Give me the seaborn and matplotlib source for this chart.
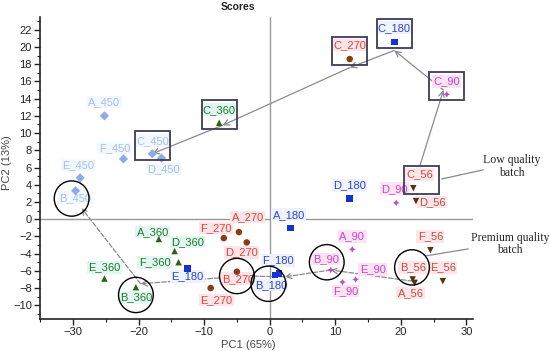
import numpy as np
import pandas as pd
import matplotlib
matplotlib.use("Agg")
import matplotlib.pyplot as plt
import seaborn as sns
from matplotlib.patches import Ellipse, Rectangle

# ==========================================
# DATA
# ==========================================

samples = ["A", "B", "C", "D", "E", "F"]
groups = ["450", "360", "270", "180", "90", "56"]

pc1_450 = [-25.2, -29.6, -17.9, -16.5, -28.9, -22.3]
pc2_450 = [12.0, 3.3, 7.6, 7.1, 4.8, 7.0]

pc1_360 = [-16.9, -20.4, -7.7, -14.5, -25.2, -13.9]
pc2_360 = [-2.3, -7.9, 11.2, -3.7, -6.9, -5.0]

pc1_270 = [-4.7, -5.0, 12.2, -3.5, -9.0, -7.0]
pc2_270 = [-1.5, -6.1, 18.6, -2.7, -8.0, -2.2]

pc1_180 = [3.2, 0.8, 19.0, 12.2, -12.5, 1.4]
pc2_180 = [-1.0, -6.5, 20.6, 2.4, -5.7, -6.3]

pc1_90 = [12.6, 9.3, 27.0, 19.3, 13.1, 11.1]
pc2_90 = [-3.5, -5.9, 14.5, 1.9, -7.0, -7.3]

pc1_56 = [22.1, 21.8, 21.9, 22.3, 26.4, 24.5]
pc2_56 = [-7.4, -7.0, 3.6, 2.1, -7.2, -3.6]

pc1 = {"450": pc1_450, "360": pc1_360, "270": pc1_270,
       "180": pc1_180, "90": pc1_90, "56": pc1_56}
pc2 = {"450": pc2_450, "360": pc2_360, "270": pc2_270,
       "180": pc2_180, "90": pc2_90, "56": pc2_56}

rows = []
for g in groups:
    for s, x, y in zip(samples, pc1[g], pc2[g]):
        rows.append({"group": g, "sample": s, "PC1": x, "PC2": y,
                     "label": f"{s}_{g}"})
df = pd.DataFrame(rows)

# ==========================================
# STYLES
# ==========================================

point_colors = {"450": "#8eaae8", "360": "#2f6116", "270": "#8a3c12",
                "180": "#1432d2", "90": "#c04ad0", "56": "#5a3212"}
markers = {"450": "D", "360": "^", "270": "o", "180": "s",
           "90": (4, 1, 0), "56": "v"}
label_colors = {"450": "#a9bfe6", "360": "#217a2a", "270": "#e0462e",
                "180": "#2a46d0", "90": "#cc44cc", "56": "#c0503a"}
label_bg = {"450": "#f2f8ff", "360": "#e2f7f1", "270": "#fde3ea",
            "180": "#eef3ff", "90": "#fbe3f3", "56": "#fde6ea"}

# label offsets in pixels (dx right, dy up)
label_offsets = {
    "A_450": (0, 14), "B_450": (0, -7), "C_450": (0, 13), "D_450": (2, -11),
    "E_450": (-2, 13), "F_450": (-9, 11),
    "A_360": (-6, 7), "B_360": (0, -10), "C_360": (0, 13), "D_360": (13, 9),
    "E_360": (0, 11), "F_360": (-24, 0),
    "A_270": (9, 15), "B_270": (1, -7), "C_270": (0, 14), "D_270": (-5, -10),
    "E_270": (6, -12), "F_270": (-8, 10),
    "A_180": (-2, 13), "B_180": (-4, -10), "C_180": (0, 14), "D_180": (0, 13),
    "E_180": (0, -8), "F_180": (-1, 13),
    "A_90": (0, 13), "B_90": (-5, 11), "C_90": (0, 13), "D_90": (-2, 14),
    "E_90": (17, 10), "F_90": (3, -9),
    "A_56": (-4, -10), "B_56": (0, 12), "C_56": (6, 14), "D_56": (16, -1),
    "E_56": (0, 14), "F_56": (0, 14),
}

# ==========================================
# PLOT
# ==========================================

sns.set_style("white")
plt.rcParams["font.family"] = ["Liberation Sans", "DejaVu Sans"]

fig = plt.figure(figsize=(5.5, 3.51), dpi=100)
ax = fig.add_axes([0.073, 0.091, 0.787, 0.861])

ax.axhline(0, color="#9a9a9a", lw=1.0, zorder=1)
ax.axvline(0, color="#9a9a9a", lw=1.0, zorder=1)

sns.scatterplot(data=df, x="PC1", y="PC2", hue="group", style="group",
                palette=point_colors, markers=markers, s=22,
                edgecolor="none", legend=False, ax=ax, zorder=4)

for _, r in df.iterrows():
    dx, dy = label_offsets[r["label"]]
    ax.annotate(r["label"], (r["PC1"], r["PC2"]), xytext=(dx, dy),
                textcoords="offset pixels", ha="center", va="center",
                fontsize=8, color=label_colors[r["group"]], zorder=3,
                bbox=dict(boxstyle="square,pad=0.12", fc=label_bg[r["group"]],
                          ec="none"))

# boxes round the C samples
for g in groups:
    cx, cy = pc1[g][2], pc2[g][2]
    shift = 1.2 if g == "56" else 0.0
    ax.add_patch(Rectangle((cx - 2.65 + shift, cy - 0.7), 5.3, 3.3,
                           fill=False, ec="#3c3c58", lw=1.3, zorder=5))

# circles round the B samples
circle_shift = {"450": (-0.6, -0.9), "360": (0, -0.9), "270": (0, -0.5),
                "180": (-1.0, -1.0), "90": (-0.6, 0.9), "56": (-0.1, 1.4)}
for g in groups:
    bx, by = pc1[g][1], pc2[g][1]
    sx, sy = circle_shift[g]
    ax.add_patch(Ellipse((bx + sx, by + sy), 5.3, 4.1, fill=False,
                         ec="black", lw=1.0, zorder=5))

# C trajectory (solid) and B trajectory (dashed)
arrow_solid = dict(arrowstyle="->", color="#8a8a8a", lw=0.9,
                   shrinkA=0, shrinkB=0)
c_pts = [(pc1_56[2] + 1.0, pc2_56[2] + 2.6), (pc1_90[2] - 0.5, pc2_90[2] + 0.5),
         (pc1_180[2], pc2_180[2] - 1.0), (pc1_270[2], pc2_270[2] - 1.0),
         (pc1_360[2] + 0.5, pc2_360[2] - 0.3), (pc1_450[2], pc2_450[2])]
for a, b in zip(c_pts[:-1], c_pts[1:]):
    ax.annotate("", xy=b, xytext=a, arrowprops=arrow_solid, zorder=2)

arrow_dash = dict(arrowstyle="->", color="#8a8a8a", lw=0.9, ls="--",
                  shrinkA=0, shrinkB=0)
b_pts = [(pc1_56[1], pc2_56[1] - 0.2), (pc1_90[1], pc2_90[1]),
         (pc1_180[1] + 1.5, pc2_180[1] - 0.2), (pc1_270[1] + 1.3, pc2_270[1] - 0.5),
         (pc1_360[1] + 0.7, pc2_360[1] + 0.4), (pc1_450[1] + 0.9, pc2_450[1] - 2.0)]
for a, b in zip(b_pts[:-1], b_pts[1:]):
    ax.annotate("", xy=b, xytext=a, arrowprops=arrow_dash, zorder=2)

# batch annotations
serif = ["Liberation Serif", "DejaVu Serif"]
ax.annotate("", xy=(pc1_56[2] + 3.9, pc2_56[2] + 1.0), xytext=(33.0, 5.8),
            arrowprops=dict(arrowstyle="-", color="#8a8a8a", lw=0.9),
            annotation_clip=False)
fig.text(0.931, 0.525, "Low quality\nbatch", ha="center", va="center",
         fontsize=8.5, family=serif, linespacing=1.05)
ax.annotate("", xy=(23.5, -4.3), xytext=(30.7, -3.4),
            arrowprops=dict(arrowstyle="-", color="#8a8a8a", lw=0.9),
            annotation_clip=False)
fig.text(0.927, 0.305, "Premium quality\nbatch", ha="center", va="center",
         fontsize=8.5, family=serif, linespacing=1.05)

# ==========================================
# AXES
# ==========================================

ax.set_xlim(-34.8, 31)
ax.set_ylim(-11.6, 23.5)
ax.set_xticks(np.arange(-30, 31, 10))
ax.set_xticks(np.arange(-35, 31, 5), minor=True)
ax.set_yticks(np.arange(-10, 23, 2))
ax.set_yticks(np.arange(-11, 24, 1), minor=True)
ax.tick_params(axis="both", which="major", direction="out", length=4,
               width=1, labelsize=8, colors="#222222", pad=2)
ax.tick_params(axis="both", which="minor", direction="out", length=2,
               width=0.8, colors="#222222")
ax.tick_params(left=True, bottom=True, which="both")

for side in ["top", "right"]:
    ax.spines[side].set_visible(False)
for side in ["left", "bottom"]:
    ax.spines[side].set_color("#222222")
    ax.spines[side].set_linewidth(1.2)

ax.set_xlabel("PC1 (65%)", fontsize=8, color="#444444")
ax.set_ylabel("PC2 (13%)", fontsize=8, color="#444444")
ax.xaxis.set_label_coords(0.48, -0.07)
ax.yaxis.set_label_coords(-0.065, 0.517)

fig.text(0.433, 0.98, "Scores", ha="center", va="center", fontsize=7.5,
         fontweight="bold", color="#222222")

fig.savefig("out.png", dpi=100)
